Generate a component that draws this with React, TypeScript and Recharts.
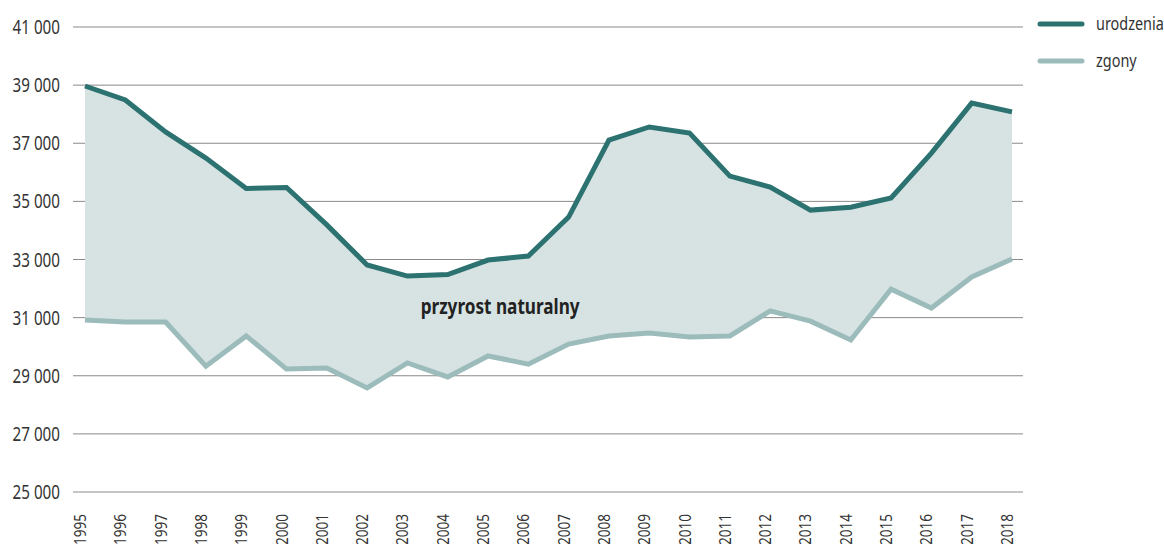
import { Area, ComposedChart, Line, CartesianGrid, XAxis, YAxis, ReferenceDot } from "recharts"

const years = [1995, 1996, 1997, 1998, 1999, 2000, 2001, 2002, 2003, 2004, 2005, 2006, 2007, 2008, 2009, 2010, 2011, 2012, 2013, 2014, 2015, 2016, 2017, 2018]

const births = [38970, 38490, 37390, 36490, 35440, 35480, 34190, 32810, 32430, 32480, 32980, 33120, 34460, 37110, 37560, 37350, 35870, 35490, 34700, 34800, 35120, 36660, 38380, 38080]

const deaths = [30920, 30850, 30850, 29330, 30370, 29230, 29270, 28580, 29440, 28960, 29680, 29400, 30090, 30370, 30470, 30330, 30370, 31230, 30880, 30230, 31980, 31330, 32400, 33020]

const yTicks = [25000, 27000, 29000, 31000, 33000, 35000, 37000, 39000, 41000]

const data = years.map((year, i) => ({
  year,
  urodzenia: births[i],
  zgony: deaths[i],
  gap: [deaths[i], births[i]],
}))

const FONT = "'Noto Sans', sans-serif"
const DARK = "#2c7270"
const LIGHT = "#9cbcbb"

const fmt = (v: number) => {
  const s = String(v)
  return s.slice(0, s.length - 3) + " " + s.slice(-3)
}

// narrow text, to stand in for a condensed face
function NarrowText({ x, y, rotate = 0, anchor = "start", size = 19, squeeze = 0.76, weight = "normal", fill = "#333", children }: any) {
  return (
    <text
      x={0}
      y={0}
      transform={`translate(${x},${y}) rotate(${rotate}) scale(${squeeze},1)`}
      textAnchor={anchor}
      fontSize={size}
      fontWeight={weight}
      fontFamily={FONT}
      fill={fill}
    >
      {children}
    </text>
  )
}

function YearTick(props: any) {
  const { x, y, payload } = props
  return (
    <NarrowText x={x + 1} y={y + 14} rotate={-90} anchor="end" size={17} squeeze={0.8}>
      {payload.value}
    </NarrowText>
  )
}

function ValueTick(props: any) {
  const { x, y, payload } = props
  return (
    <NarrowText x={x} y={y + 7} anchor="end" size={20} squeeze={0.76}>
      {fmt(payload.value)}
    </NarrowText>
  )
}

function CenterLabel(props: any) {
  const vb = props.viewBox || {}
  return (
    <NarrowText x={vb.x} y={vb.y + 7} anchor="middle" size={22} squeeze={0.78} weight="bold" fill="#222">
      przyrost naturalny
    </NarrowText>
  )
}

export default function App() {
  return (
    <div style={{ position: "absolute", left: 0, top: 0, width: 1164, height: 544, background: "#fff" }}>
      <ComposedChart width={1164} height={544} data={data} margin={{ top: 27, right: 141, bottom: 0, left: 0 }}>
        <CartesianGrid horizontal vertical={false} stroke="#8a8a8a" strokeWidth={1} />
        <XAxis
          dataKey="year"
          type="number"
          domain={[1995, 2018]}
          ticks={years}
          interval={0}
          height={52}
          padding={{ left: 12, right: 11 }}
          axisLine={false}
          tickLine={false}
          tick={<YearTick />}
        />
        <YAxis
          width={73}
          domain={[25000, 41000]}
          ticks={yTicks}
          axisLine={false}
          tickLine={false}
          tickSize={0}
          tickMargin={13}
          tick={<ValueTick />}
        />
        <Area
          dataKey="gap"
          type="linear"
          stroke="none"
          fill="#d7e3e3"
          fillOpacity={1}
          isAnimationActive={false}
        />
        <Line dataKey="zgony" type="linear" stroke={LIGHT} strokeWidth={5} dot={false} isAnimationActive={false} />
        <Line dataKey="urodzenia" type="linear" stroke={DARK} strokeWidth={5} dot={false} isAnimationActive={false} />
        <ReferenceDot x={2005.3} y={31365} r={0} label={<CenterLabel />} />
      </ComposedChart>
      <svg width={130} height={80} style={{ position: "absolute", left: 1034, top: 0 }}>
        <line x1={6} y1={24} x2={48} y2={24} stroke={DARK} strokeWidth={5} strokeLinecap="round" />
        <NarrowText x={62} y={30} size={19}>urodzenia</NarrowText>
        <line x1={6} y1={61} x2={48} y2={61} stroke={LIGHT} strokeWidth={5} strokeLinecap="round" />
        <NarrowText x={62} y={67} size={19}>zgony</NarrowText>
      </svg>
    </div>
  )
}
